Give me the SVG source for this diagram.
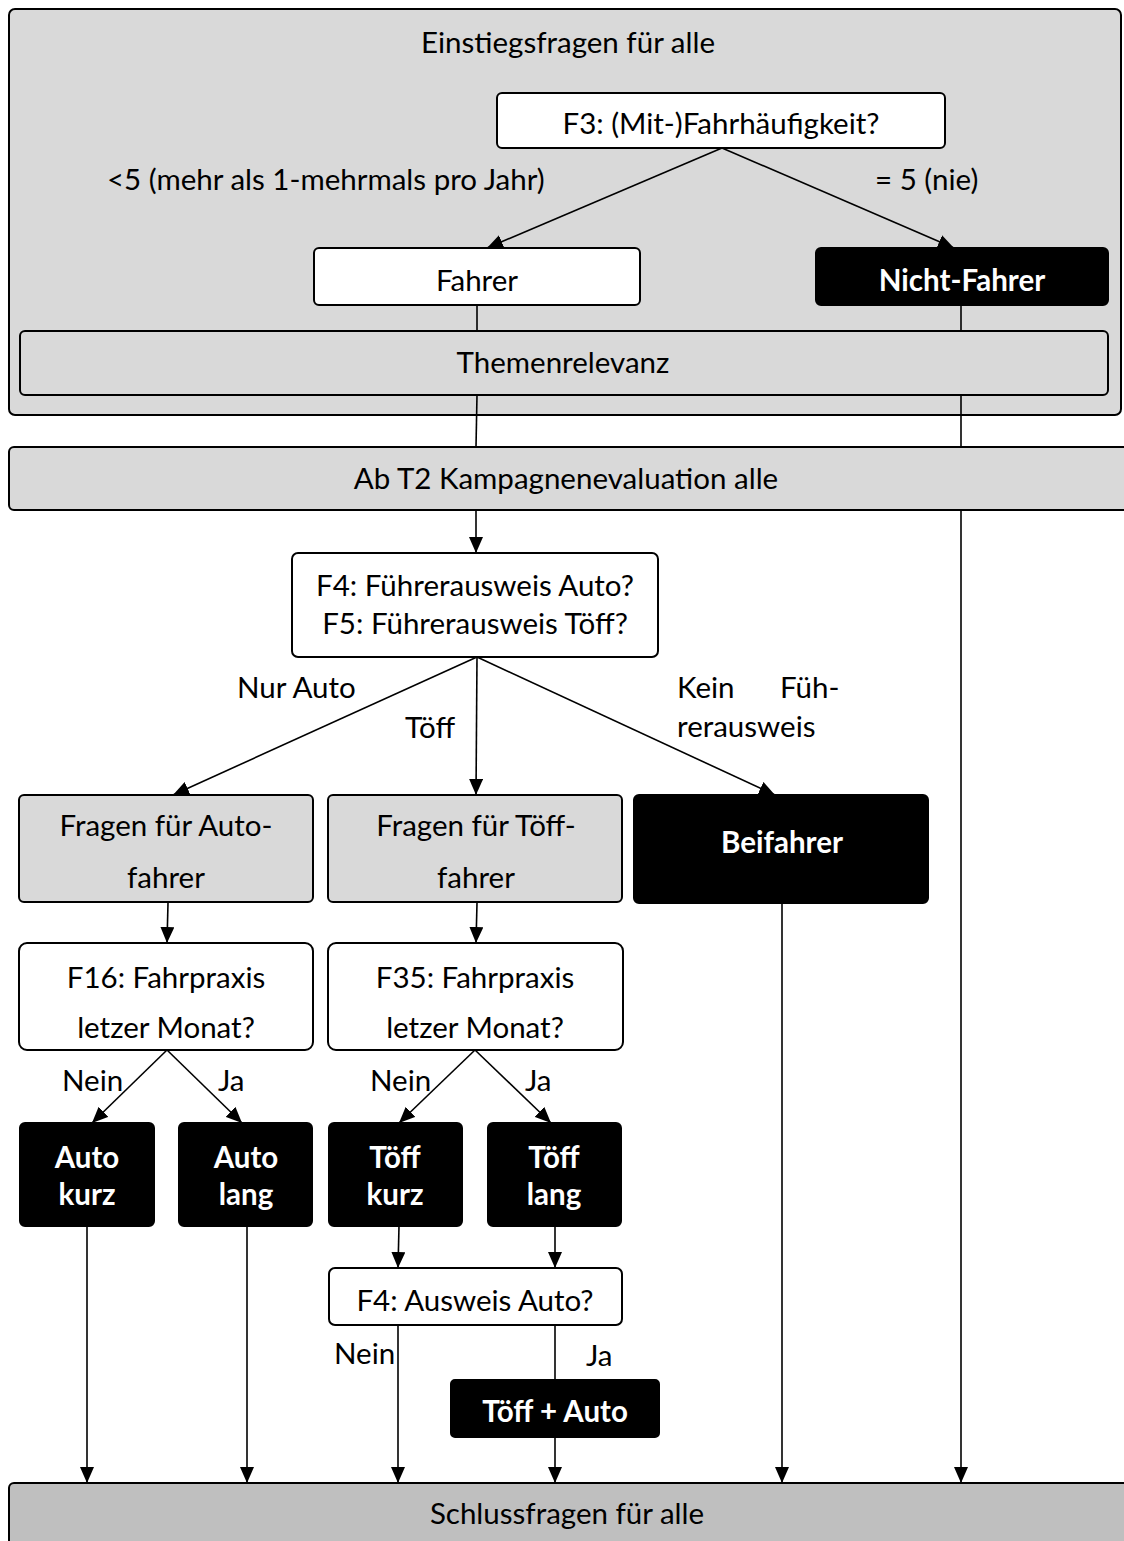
<svg xmlns="http://www.w3.org/2000/svg" width="1124" height="1541" viewBox="0 0 1124 1541">
<style>
text{font-family:Lato,"Open Sans","Liberation Sans",sans-serif;font-size:29.5px;fill:#000}
.c{text-anchor:middle}
.b{font-weight:bold;fill:#fff}
.box{stroke:#000;stroke-width:2}
.g{fill:#d9d9d9}
.w{fill:#fff}
.k{fill:#000}
.ln{stroke:#000;stroke-width:1.6;fill:none}
.ar{marker-end:url(#arr)}
</style>
<defs>
<marker id="arr" markerUnits="userSpaceOnUse" markerWidth="16" markerHeight="14" viewBox="0 0 16 14" refX="16" refY="7" orient="auto">
<path d="M0,0 L16,7 L0,14 z" fill="#000"/>
</marker>
</defs>
<rect width="1124" height="1541" fill="#fff"/>

<g id="einstieg">
<rect class="box g" x="9" y="9" width="1112" height="406" rx="6"/>
<text class="c" x="568" y="53">Einstiegsfragen für alle</text>
</g>

<g id="connectors">
<line class="ln ar" x1="722" y1="148" x2="487" y2="248"/>
<line class="ln ar" x1="722" y1="148" x2="954" y2="248"/>
<line class="ln" x1="477" y1="305" x2="477" y2="331"/>
<line class="ln" x1="961" y1="305" x2="961" y2="331"/>
<line class="ln" x1="477" y1="395" x2="476" y2="447"/>
<line class="ln ar" x1="476" y1="510" x2="476" y2="553"/>
<line class="ln ar" x1="961" y1="395" x2="961" y2="1483"/>
<line class="ln ar" x1="477" y1="657" x2="173" y2="795"/>
<line class="ln ar" x1="477" y1="657" x2="476" y2="795"/>
<line class="ln ar" x1="477" y1="657" x2="775" y2="795"/>
<line class="ln ar" x1="168" y1="903" x2="167" y2="943"/>
<line class="ln ar" x1="477" y1="903" x2="476" y2="943"/>
<line class="ln ar" x1="167" y1="1050" x2="92" y2="1123"/>
<line class="ln ar" x1="167" y1="1050" x2="242" y2="1123"/>
<line class="ln ar" x1="475" y1="1050" x2="399" y2="1123"/>
<line class="ln ar" x1="475" y1="1050" x2="551" y2="1123"/>
<line class="ln ar" x1="87" y1="1226" x2="87" y2="1483"/>
<line class="ln ar" x1="247" y1="1226" x2="247" y2="1483"/>
<line class="ln ar" x1="399" y1="1226" x2="398" y2="1268"/>
<line class="ln ar" x1="555" y1="1226" x2="555" y2="1268"/>
<line class="ln ar" x1="398" y1="1325" x2="398" y2="1483"/>
<line class="ln" x1="555" y1="1325" x2="555" y2="1380"/>
<line class="ln ar" x1="555" y1="1437" x2="555" y2="1483"/>
<line class="ln ar" x1="782" y1="903" x2="782" y2="1483"/>
</g>

<g id="labels">
<text x="107" y="190">&lt;5 (mehr als 1-mehrmals pro Jahr)</text>
<text x="875" y="190">= 5 (nie)</text>
<text x="237" y="698">Nur Auto</text>
<text x="405" y="738">Töff</text>
<text x="677" y="698">Kein</text>
<text x="780" y="698">Füh-</text>
<text x="677" y="737">rerausweis</text>
<text x="62" y="1091">Nein</text>
<text x="218" y="1091">Ja</text>
<text x="370" y="1091">Nein</text>
<text x="525" y="1091">Ja</text>
<text x="334" y="1364">Nein</text>
<text x="586" y="1366">Ja</text>
</g>

<g id="f3">
<rect class="box w" x="497" y="93" width="448" height="55" rx="5"/>
<text class="c" x="721" y="134">F3: (Mit-)Fahrhäufigkeit?</text>
</g>
<g id="fahrer">
<rect class="box w" x="314" y="248" width="326" height="57" rx="5"/>
<text class="c" x="477" y="291">Fahrer</text>
</g>
<g id="nichtfahrer">
<rect class="box k" x="816" y="248" width="292" height="57" rx="5"/>
<text class="c b" x="962" y="291">Nicht-Fahrer</text>
</g>
<g id="themenrelevanz">
<rect class="box g" x="20" y="331" width="1088" height="64" rx="5"/>
<text class="c" x="563" y="373">Themenrelevanz</text>
</g>
<g id="kampagne">
<rect class="box g" x="9" y="447" width="1125" height="63" rx="5"/>
<text class="c" x="566" y="489">Ab T2 Kampagnenevaluation alle</text>
</g>
<g id="f4f5">
<rect class="box w" x="292" y="553" width="366" height="104" rx="6"/>
<text class="c" x="475" y="596">F4: Führerausweis Auto?</text>
<text class="c" x="475" y="634">F5: Führerausweis Töff?</text>
</g>
<g id="fragenauto">
<rect class="box g" x="19" y="795" width="294" height="107" rx="5"/>
<text class="c" x="166" y="836">Fragen für Auto-</text>
<text class="c" x="166" y="888">fahrer</text>
</g>
<g id="fragentoeff">
<rect class="box g" x="328" y="795" width="294" height="107" rx="5"/>
<text class="c" x="476" y="836">Fragen für Töff-</text>
<text class="c" x="476" y="888">fahrer</text>
</g>
<g id="beifahrer">
<rect class="box k" x="634" y="795" width="294" height="108" rx="5"/>
<text class="c b" x="782" y="853">Beifahrer</text>
</g>
<g id="f16">
<rect class="box w" x="19" y="943" width="294" height="107" rx="8"/>
<text class="c" x="166" y="988">F16: Fahrpraxis</text>
<text class="c" x="166" y="1038">letzer Monat?</text>
</g>
<g id="f35">
<rect class="box w" x="328" y="943" width="295" height="107" rx="8"/>
<text class="c" x="475" y="988">F35: Fahrpraxis</text>
<text class="c" x="475" y="1038">letzer Monat?</text>
</g>
<g id="autokurz">
<rect class="box k" x="20" y="1123" width="134" height="103" rx="5"/>
<text class="c b" x="87" y="1168">Auto</text>
<text class="c b" x="87" y="1205">kurz</text>
</g>
<g id="autolang">
<rect class="box k" x="179" y="1123" width="133" height="103" rx="5"/>
<text class="c b" x="246" y="1168">Auto</text>
<text class="c b" x="246" y="1205">lang</text>
</g>
<g id="toeffkurz">
<rect class="box k" x="329" y="1123" width="133" height="103" rx="5"/>
<text class="c b" x="395" y="1168">Töff</text>
<text class="c b" x="395" y="1205">kurz</text>
</g>
<g id="toefflang">
<rect class="box k" x="488" y="1123" width="133" height="103" rx="5"/>
<text class="c b" x="554" y="1168">Töff</text>
<text class="c b" x="554" y="1205">lang</text>
</g>
<g id="f4ausweis">
<rect class="box w" x="329" y="1268" width="293" height="57" rx="6"/>
<text class="c" x="475" y="1311">F4: Ausweis Auto?</text>
</g>
<g id="toeffauto">
<rect class="box k" x="451" y="1380" width="208" height="57" rx="4"/>
<text class="c b" x="555" y="1422">Töff + Auto</text>
</g>
<g id="schluss">
<rect class="box" fill="#bfbfbf" x="9" y="1483" width="1130" height="80" rx="5"/>
<text class="c" x="567" y="1524">Schlussfragen für alle</text>
</g>
</svg>
